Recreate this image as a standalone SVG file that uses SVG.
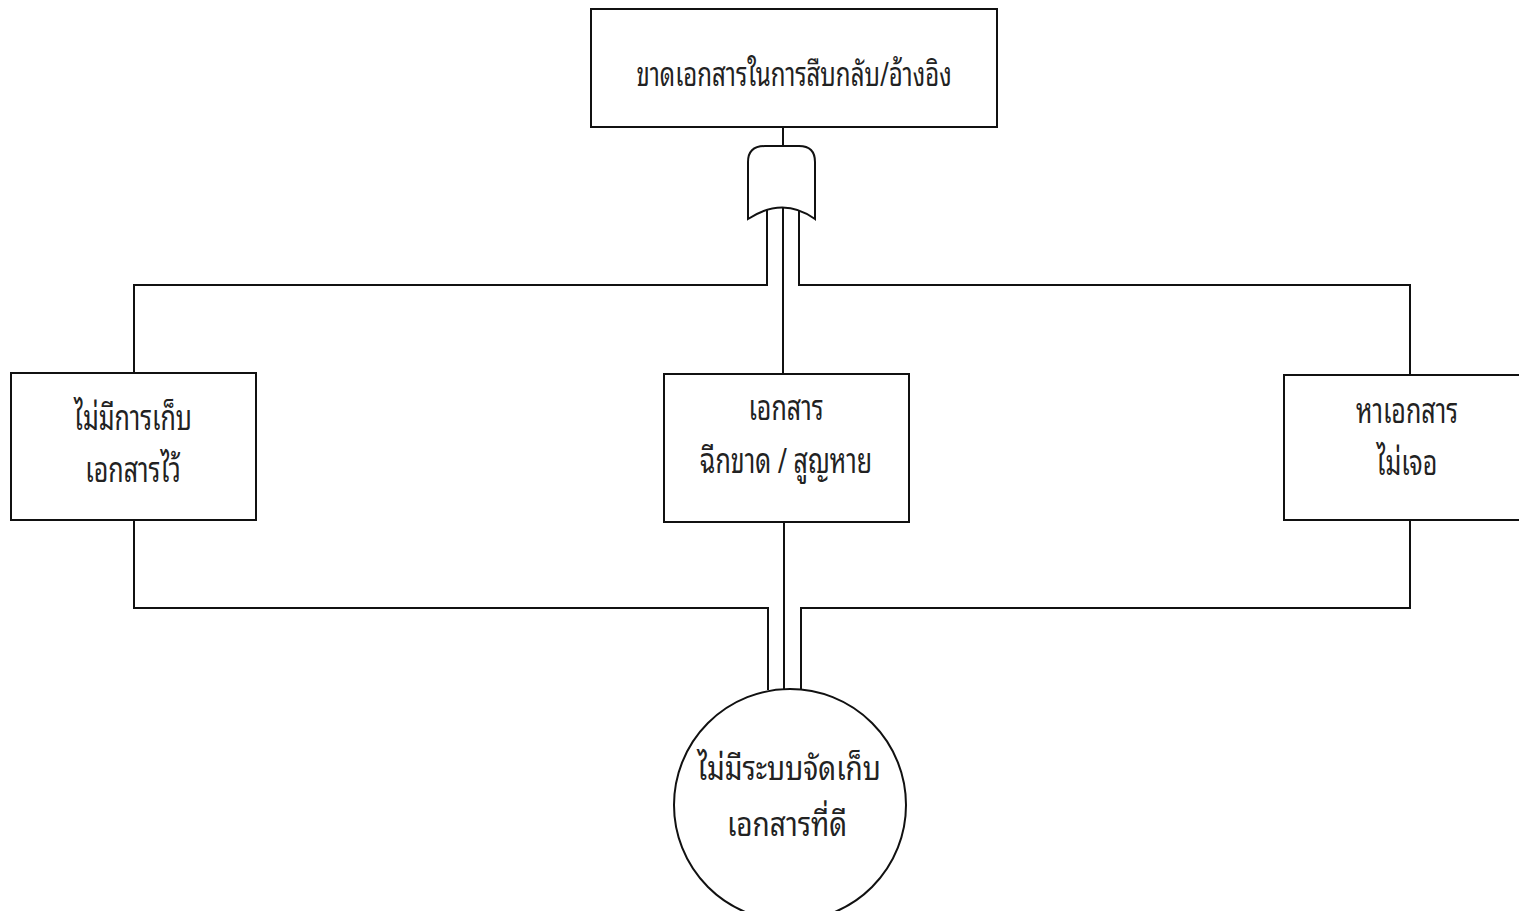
<svg xmlns="http://www.w3.org/2000/svg" width="1519" height="911" viewBox="0 0 1519 911">
<style>
.box{fill:#fff;stroke:#111;stroke-width:2}
.ln{fill:none;stroke:#111;stroke-width:2}
.t{font-family:"Noto Sans Thai Looped","Noto Serif Thai","Garuda","Loma","Norasi","Noto Sans Thai","Noto Sans","DejaVu Sans",sans-serif;font-size:25px;fill:#222;text-anchor:middle}
.tl{font-size:28px}
.ts{font-size:24px}
</style>
<rect width="1519" height="911" fill="#fff"/>
<g id="connectors">
<path class="ln" d="M783,128 V146"/>
<path class="ln" d="M767,210 V285 H134 V373"/>
<path class="ln" d="M799,210 V285 H1410 V375"/>
<path class="ln" d="M783,208 V374"/>
<path class="ln" d="M134,520 V608 H768 V690"/>
<path class="ln" d="M784,522 V689"/>
<path class="ln" d="M1410,520 V608 H801 V690"/>
</g>
<g id="top">
<rect class="box" x="591" y="9" width="406" height="118"/>
<text class="t ts" transform="translate(794,86) scale(1,1.4)">ขาดเอกสารในการสืบกลับ/อ้างอิง</text>
</g>
<g id="gate">
<path class="box" d="M748,219 L748,162 Q748,146 765,146 L799,146 Q815,146 815,162 L815,219 Q783,196 748,219 Z"/>
</g>
<g id="left">
<rect class="box" x="11" y="373" width="245" height="147"/>
<text class="t" transform="translate(133,430) scale(1,1.4)">ไม่มีการเก็บ</text>
<text class="t" transform="translate(133,482) scale(1,1.4)">เอกสารไว้</text>
</g>
<g id="middle">
<rect class="box" x="664" y="374" width="245" height="148"/>
<text class="t" transform="translate(786,420) scale(1,1.4)">เอกสาร</text>
<text class="t" transform="translate(786,473) scale(1,1.4)">ฉีกขาด / สูญหาย</text>
</g>
<g id="right">
<rect class="box" x="1284" y="375" width="250" height="145"/>
<text class="t" transform="translate(1407,423) scale(1,1.4)">หาเอกสาร</text>
<text class="t" transform="translate(1407,475) scale(1,1.4)">ไม่เจอ</text>
</g>
<g id="bottom">
<circle class="box" cx="790" cy="805" r="116"/>
<text class="t tl" transform="translate(789,780) scale(1,1.2)">ไม่มีระบบจัดเก็บ</text>
<text class="t tl" transform="translate(787,836) scale(1,1.2)">เอกสารที่ดี</text>
</g>
</svg>
